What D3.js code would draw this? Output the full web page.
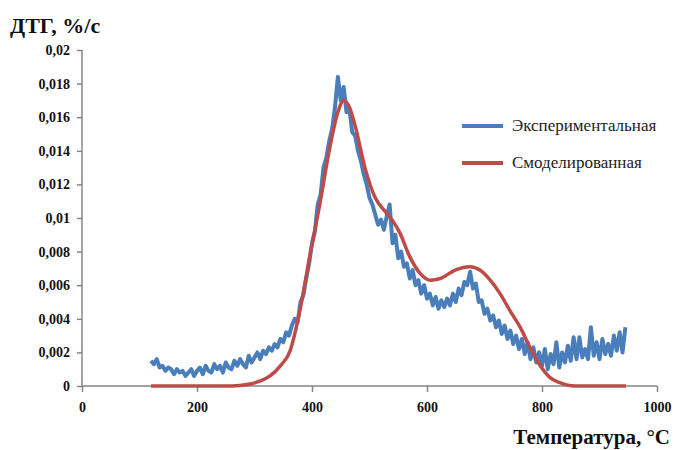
<!DOCTYPE html>
<html><head><meta charset="utf-8">
<script src="https://cdn.jsdelivr.net/npm/d3@7/dist/d3.min.js"></script>
<style>body{margin:0;background:#fff}svg{display:block}text{font-family:"Liberation Serif","DejaVu Serif",serif}</style>
</head><body>
<svg id="c" width="675" height="450"></svg>
<script>
const xTicks = [0, 200, 400, 600, 800, 1000];
const yTicks = [0, 0.002, 0.004, 0.006, 0.008, 0.01, 0.012, 0.014, 0.016, 0.018, 0.02];
const yTickLabels = ["0","0,002","0,004","0,006","0,008","0,01","0,012","0,014","0,016","0,018","0,02"];
const seriesNames = ["Экспериментальная", "Смоделированная"];
const yTitle = "ДТГ, %/с";
const xTitle = "Температура, °С";

const expT = [120,125,130,135,140,145,150,155,160,165,170,175,180,185,190,195,200,205,210,215,220,225,230,235,240,245,250,255,260,265,270,275,280,285,290,295,300,305,310,315,320,325,330,335,340,345,350,355,360,365,370,375,380,385,390,395,400,405,410,415,420,425,430,435,440,445,450,455,460,465,470,475,480,485,490,495,500,505,510,515,520,525,530,535,540,545,550,555,560,565,570,575,580,585,590,595,600,605,610,615,620,625,630,635,640,645,650,655,660,665,670,675,680,685,690,695,700,705,710,715,720,725,730,735,740,745,750,755,760,765,770,775,780,785,790,795,800,805,810,815,820,825,830,835,840,845,850,855,860,865,870,875,880,885,890,895,900,905,910,915,920,925,930,935,940,945];
const expV = [0.0015,0.0013,0.0016,0.0011,0.0012,0.0009,0.0011,0.0010,0.0007,0.0010,0.0008,0.0009,0.0006,0.0008,0.0010,0.0006,0.0009,0.0011,0.0007,0.0012,0.0009,0.0008,0.0013,0.0010,0.0012,0.0008,0.0014,0.0011,0.0010,0.0015,0.0012,0.0016,0.0013,0.0011,0.0018,0.0014,0.0017,0.0020,0.0016,0.0021,0.0019,0.0023,0.0021,0.0025,0.0023,0.0028,0.0026,0.0032,0.0030,0.0036,0.0040,0.0038,0.0050,0.0054,0.0064,0.0073,0.0085,0.0092,0.0108,0.0114,0.0130,0.0136,0.0146,0.0153,0.0166,0.0184,0.0170,0.0178,0.0163,0.0165,0.0151,0.0149,0.0140,0.0134,0.0126,0.0120,0.0112,0.0108,0.0102,0.0096,0.0099,0.0093,0.0101,0.0108,0.0085,0.0090,0.0076,0.0080,0.0071,0.0073,0.0064,0.0069,0.0060,0.0063,0.0055,0.0060,0.0052,0.0055,0.0048,0.0053,0.0046,0.0051,0.0047,0.0052,0.0048,0.0055,0.0050,0.0058,0.0054,0.0062,0.0060,0.0068,0.0058,0.0061,0.0050,0.0051,0.0043,0.0046,0.0039,0.0042,0.0035,0.0039,0.0031,0.0036,0.0028,0.0033,0.0025,0.0030,0.0022,0.0028,0.0019,0.0026,0.0016,0.0023,0.0014,0.0020,0.0012,0.0022,0.0010,0.0019,0.0013,0.0026,0.0011,0.0020,0.0014,0.0024,0.0015,0.0029,0.0016,0.0029,0.0017,0.0022,0.0016,0.0035,0.0018,0.0026,0.0016,0.0028,0.0019,0.0025,0.0018,0.0030,0.0021,0.0032,0.0020,0.0035];

const modT = [120,200,260,290,310,327,345,362,379,396,414,431,445,455,465,475,492,510,527,541,553,570,588,605,623,649,675,692,710,727,744,762,779,797,814,831,857,900,946];
const modV = [0,0,0,0.0001,0.0003,0.0006,0.0012,0.0021,0.0045,0.0077,0.0109,0.0142,0.0163,0.0170,0.0166,0.0155,0.0130,0.0112,0.0104,0.0098,0.0091,0.0077,0.0067,0.0063,0.0064,0.0069,0.0071,0.0069,0.0063,0.0055,0.0045,0.0035,0.0023,0.0012,0.0005,0.0002,0,0,0];

const svg = d3.select("#c");
const x = d3.scaleLinear().domain([0, 1000]).range([82, 657]);
const y = d3.scaleLinear().domain([0, 0.02]).range([386, 50]);
const axisColor = "#868686";
const serif = "\"Liberation Serif\", \"DejaVu Serif\", serif";

const yAxis = svg.append("g").attr("transform", "translate(82,0)")
  .call(d3.axisLeft(y).tickValues(yTicks).tickSize(5).tickPadding(7)
    .tickFormat((d, i) => yTickLabels[i]));
const xAxis = svg.append("g").attr("transform", "translate(0,386)")
  .call(d3.axisBottom(x).tickValues(xTicks).tickSize(6).tickPadding(10).tickFormat(d => String(d)));
[yAxis, xAxis].forEach(g => {
  g.attr("font-family", null).attr("font-size", null);
  g.select(".domain").attr("stroke", axisColor).attr("stroke-width", 1.5);
  g.selectAll(".tick line").attr("stroke", axisColor).attr("stroke-width", 1.5);
  g.selectAll(".tick text").attr("fill", "#111").attr("font-family", serif)
    .attr("font-size", 14).attr("font-weight", "bold");
});
yAxis.select(".domain").attr("d", "M0," + y(0.02) + "V" + y(0));
xAxis.select(".domain").attr("d", "M" + x(0) + ",0H" + x(1000));

const expData = expT.map((t, i) => [t, expV[i]]);
const modData = modT.map((t, i) => [t, modV[i]]);
const line = d3.line().x(d => x(d[0])).y(d => y(d[1]));
svg.append("path").datum(expData).attr("d", line).attr("fill", "none")
  .attr("stroke", "#4a7ebb").attr("stroke-width", 4).attr("stroke-linejoin", "round");
svg.append("path").datum(modData).attr("d", line.curve(d3.curveMonotoneX)).attr("fill", "none")
  .attr("stroke", "#be4b48").attr("stroke-width", 3.5).attr("stroke-linejoin", "round");

const colors = ["#4a7ebb", "#be4b48"];
seriesNames.forEach((n, i) => {
  const ly = 126 + i * 37;
  svg.append("line").attr("x1", 462).attr("x2", 503).attr("y1", ly).attr("y2", ly)
    .attr("stroke", colors[i]).attr("stroke-width", 4);
  svg.append("text").attr("x", 512).attr("y", ly + 5).text(n)
    .attr("font-family", serif).attr("font-size", 17).attr("fill", "#222");
});

svg.append("text").attr("x", 10).attr("y", 33).text(yTitle)
  .attr("font-family", serif).attr("font-size", 22).attr("font-weight", "bold").attr("fill", "#111");
svg.append("text").attr("x", 670).attr("y", 444).attr("text-anchor", "end").text(xTitle)
  .attr("font-family", serif).attr("font-size", 21).attr("font-weight", "bold").attr("fill", "#111");
</script>
</body></html>
